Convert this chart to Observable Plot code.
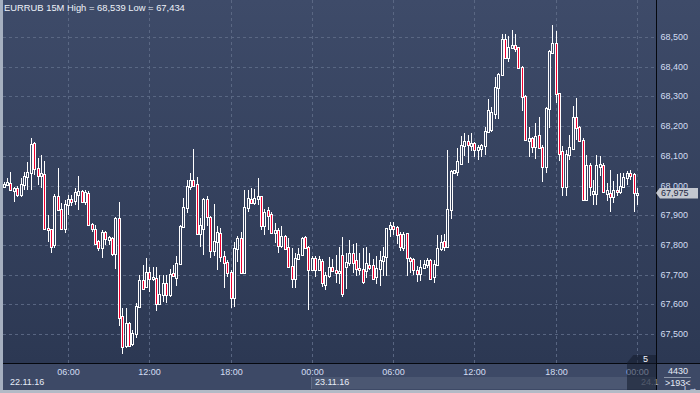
<!DOCTYPE html>
<html><head><meta charset="utf-8">
<script src="https://cdn.jsdelivr.net/npm/d3@7"></script>
<script src="https://cdn.jsdelivr.net/npm/@observablehq/plot@0.6"></script>
<style>
html,body{margin:0;padding:0;background:#2c3853;}
#wrap{position:relative;width:700px;height:393px;overflow:hidden;font-family:"Liberation Sans",Arial,sans-serif;font-size:9px;line-height:9px;
 background:linear-gradient(to bottom,#3e4b69 0px,#2c3853 363px,#2c3853 393px);}
.abs{position:absolute;white-space:nowrap;}
</style></head>
<body><div id="wrap">
<svg width="0" height="0" style="position:absolute;left:0;top:0"><defs><linearGradient id="bgGrad" gradientUnits="userSpaceOnUse" x1="0" y1="0" x2="0" y2="363"><stop offset="0" stop-color="#3e4b69"/><stop offset="1" stop-color="#2c3853"/></linearGradient></defs></svg>
<div class="abs" style="left:0;top:364px;width:700px;height:26px;background:#3d4966"></div>
<div class="abs" style="left:311px;top:377px;width:315px;height:12px;background:#4b5772;border-left:1px solid #5e6a84"></div>
<div class="abs" style="left:627px;top:377px;width:30px;height:12px;background:#4b5772;"></div>
</div>
<script>
// ---- data ----
const symbol = "EURRUB", timeframe = "15M";
const open = [68.000,68.006,68.010,67.986,67.990,67.972,68.006,68.033,68.045,68.143,
68.058,68.036,68.040,67.858,67.853,67.802,67.963,67.920,67.856,67.938,
67.954,67.950,67.972,67.982,67.949,67.974,67.870,67.855,67.812,67.792,
67.842,67.820,67.822,67.772,67.890,67.561,67.463,67.538,67.469,67.502,
67.594,67.682,67.660,67.710,67.688,67.690,67.606,67.635,67.671,67.635,
67.705,67.693,67.740,67.862,67.927,67.999,68.019,68.006,67.839,67.858,
67.954,67.893,67.783,67.814,67.839,67.761,67.744,67.710,67.626,67.789,
67.822,67.710,67.929,67.954,67.946,67.957,67.963,67.867,67.916,67.904,
67.845,67.850,67.800,67.830,67.792,67.729,67.688,67.755,67.770,67.826,
67.792,67.718,67.755,67.718,67.747,67.667,67.697,67.726,67.714,67.708,
67.767,67.728,67.741,67.772,67.748,67.723,67.719,67.717,67.733,67.733,
67.694,67.722,67.748,67.763,67.856,67.864,67.859,67.837,67.792,67.839,
67.756,67.752,67.717,67.706,67.726,67.737,67.748,67.694,67.737,67.789,
67.814,67.797,67.921,68.044,68.048,68.076,68.137,68.150,68.137,68.142,
68.122,68.126,68.137,68.182,68.190,68.245,68.330,68.377,68.494,68.431,
68.466,68.472,68.466,68.400,68.301,68.152,68.160,68.134,68.170,68.131,
68.067,68.260,68.450,68.480,68.310,68.115,67.997,68.107,68.125,68.232,
68.196,68.154,67.953,68.070,67.975,67.975,68.064,68.070,67.975,67.975,
67.966,67.986,67.980,68.000,68.030,68.042,68.038,67.972];
const high = [68.012,68.025,68.044,67.995,67.997,68.025,68.044,68.079,68.160,68.146,
68.092,68.103,68.081,67.901,67.855,67.972,68.058,67.940,67.952,67.969,
67.969,67.990,68.033,67.985,67.985,67.980,67.875,67.867,67.816,67.850,
67.847,67.830,67.828,67.893,67.943,67.587,67.587,67.540,67.513,67.603,
67.699,67.733,67.755,67.727,67.727,67.727,67.699,67.699,67.699,67.718,
67.733,67.761,67.867,67.957,68.017,68.042,68.124,68.030,67.890,67.957,
67.963,67.898,67.938,67.862,67.856,67.778,67.749,67.716,67.811,67.830,
67.845,67.985,67.985,67.990,67.987,68.025,67.966,67.920,67.929,67.912,
67.873,67.856,67.862,67.834,67.822,67.789,67.772,67.789,67.828,67.830,
67.797,67.763,67.761,67.761,67.752,67.710,67.759,67.752,67.767,67.794,
67.828,67.774,67.817,67.803,67.806,67.772,67.790,67.792,67.774,67.752,
67.761,67.778,67.794,67.858,67.878,67.878,67.864,67.844,67.844,67.841,
67.759,67.756,67.728,67.750,67.750,67.756,67.752,67.748,67.833,67.833,
67.837,68.120,68.051,68.053,68.126,68.167,68.176,68.170,68.176,68.148,
68.137,68.140,68.196,68.290,68.265,68.366,68.379,68.509,68.511,68.505,
68.522,68.509,68.468,68.402,68.304,68.198,68.164,68.210,68.232,68.137,
68.263,68.455,68.539,68.520,68.312,68.134,68.118,68.170,68.268,68.296,
68.201,68.160,68.103,68.076,68.020,68.103,68.100,68.076,68.008,68.053,
68.014,68.040,68.042,68.042,68.048,68.053,68.042,67.990];
const low = [67.994,67.997,67.985,67.946,67.960,67.960,67.985,67.985,67.985,68.036,
68.002,67.990,67.851,67.811,67.774,67.789,67.918,67.851,67.839,67.901,
67.930,67.935,67.918,67.940,67.935,67.862,67.845,67.803,67.781,67.755,
67.800,67.800,67.761,67.718,67.527,67.434,67.452,67.457,67.460,67.485,
67.592,67.648,67.654,67.640,67.680,67.576,67.598,67.609,67.606,67.626,
67.693,67.660,67.738,67.856,67.907,67.985,67.997,67.835,67.794,67.766,
67.862,67.755,67.761,67.715,67.744,67.654,67.693,67.587,67.592,67.744,
67.704,67.707,67.912,67.940,67.935,67.935,67.851,67.834,67.851,67.839,
67.806,67.774,67.789,67.783,67.727,67.654,67.654,67.749,67.766,67.789,
67.581,67.716,67.693,67.716,67.659,67.648,67.690,67.711,67.672,67.667,
67.626,67.650,67.728,67.706,67.694,67.697,67.670,67.689,67.717,67.683,
67.667,67.661,67.694,67.694,67.828,67.833,67.803,67.781,67.780,67.694,
67.706,67.697,67.674,67.678,67.719,67.722,67.686,67.672,67.733,67.778,
67.778,67.794,67.886,68.040,68.031,68.073,68.098,68.075,68.115,68.096,
68.087,68.096,68.103,68.176,68.180,68.223,68.223,68.372,68.427,68.416,
68.458,68.450,68.398,68.252,68.150,68.096,68.109,68.089,68.127,68.011,
68.042,68.193,68.448,68.277,68.081,67.964,67.964,68.086,68.120,68.154,
68.151,67.947,67.947,67.964,67.936,67.936,68.031,67.977,67.947,67.910,
67.942,67.964,67.970,67.992,68.003,68.019,67.910,67.935];
const close = [68.006,68.013,67.988,67.990,67.972,68.006,68.033,68.045,68.140,68.058,
68.036,68.041,67.858,67.853,67.797,67.963,67.920,67.856,67.938,67.954,
67.949,67.979,67.982,67.949,67.979,67.870,67.858,67.806,67.792,67.845,
67.822,67.826,67.772,67.890,67.558,67.460,67.538,67.463,67.502,67.594,
67.682,67.654,67.710,67.688,67.693,67.606,67.635,67.671,67.635,67.702,
67.699,67.740,67.864,67.927,67.999,68.017,68.002,67.839,67.867,67.954,
67.896,67.783,67.814,67.844,67.761,67.744,67.710,67.626,67.789,67.822,
67.710,67.929,67.957,67.946,67.957,67.963,67.867,67.912,67.901,67.845,
67.850,67.800,67.830,67.789,67.729,67.688,67.755,67.770,67.822,67.792,
67.718,67.755,67.718,67.752,67.676,67.698,67.726,67.717,67.710,67.712,
67.637,67.741,67.772,67.741,67.722,67.719,67.680,67.739,67.726,67.689,
67.722,67.748,67.763,67.856,67.867,67.856,67.837,67.797,67.837,67.759,
67.748,67.719,67.706,67.726,67.737,67.748,67.689,67.737,67.789,67.811,
67.797,67.922,68.048,68.051,68.081,68.137,68.150,68.140,68.143,68.122,
68.128,68.137,68.182,68.254,68.249,68.330,68.377,68.494,68.431,68.466,
68.472,68.464,68.400,68.301,68.156,68.160,68.134,68.167,68.131,68.067,
68.260,68.453,68.480,68.310,68.111,67.997,68.107,68.130,68.232,68.196,
68.154,67.953,68.070,67.997,67.981,68.070,68.073,67.981,67.984,67.966,
67.986,67.980,68.000,68.029,68.042,68.036,67.978,67.975];
const priceTicks = [67.5,67.6,67.7,67.8,67.9,68.0,68.1,68.2,68.3,68.4,68.5];
const timeTickIndex = [19,43,67,91,115,139,163,187];
const timeLabels = ["06:00","12:00","18:00","00:00","06:00","12:00","18:00","00:00"];
const dateLabels = ["22.11.16","23.11.16","24.1"];
const barsInfo = ["4430", ">193<"];

// ---- chart ----
const candles = open.map((o, i) => ({i, open: o, high: high[i], low: low[i], close: close[i]}));
const fmt = d => d.toFixed(3).replace(".", ",");
const up = candles.filter(d => d.close >= d.open);
const down = candles.filter(d => d.close < d.open);
const bodyOpts = {x1: "i", x2: "i", y1: "open", y2: "close", insetLeft: -0.5, insetRight: -1.5, insetTop: 0.5, insetBottom: -1.5, stroke: "#ffffff", strokeWidth: 1};
const gridColor = "#5d6a86";

const chart = Plot.plot({
  width: 700, height: 393,
  marginTop: 0, marginLeft: 3, marginRight: 44, marginBottom: 30,
  style: {background: "transparent", fontFamily: "'Liberation Sans', Arial, sans-serif", fontSize: "9px", overflow: "visible"},
  x: {type: "linear", domain: [0, open.length - 1], range: [3.65, 637], round: true, axis: null},
  y: {type: "linear", domain: [67.5, 68.5], range: [334, 37], round: true, axis: null},
  marks: [
    Plot.gridY(priceTicks, {stroke: gridColor, strokeOpacity: 0.9, strokeDasharray: "3,3"}),
    Plot.gridX(timeTickIndex, {stroke: gridColor, strokeOpacity: 0.9, strokeDasharray: "3,3"}),
    Plot.ruleX(candles, {x: "i", y1: "low", y2: "high", stroke: "#ffffff", strokeWidth: 1}),
    Plot.rect(up, {...bodyOpts, fill: "url(#bgGrad)"}),
    Plot.rect(down, {...bodyOpts, fill: "#f2002f"}),
    Plot.axisY(priceTicks, {anchor: "right", tickSize: 0, tickPadding: 4, tickFormat: fmt, color: "#d3def2"}),
    Plot.axisX(timeTickIndex, {anchor: "bottom", tickSize: 0, tickPadding: 5, tickFormat: d => timeLabels[timeTickIndex.indexOf(d)], color: "#d3def2"})
  ]
});
chart.style.position = "absolute";
chart.style.left = "0px";
chart.style.top = "0px";
const wrap = document.getElementById("wrap");
wrap.appendChild(chart);

function addDiv(style, text) {
  const d = document.createElement("div");
  d.className = "abs";
  d.setAttribute("style", style);
  if (text != null) d.textContent = text;
  wrap.appendChild(d);
  return d;
}
// frame lines
addDiv("left:3px;top:363px;width:697px;height:1px;background:#05080e");
addDiv("left:656px;top:0;width:1px;height:390px;background:#05080e");
// header
addDiv("left:4px;top:3.3px;color:#eef2f9;font-size:9.4px", `${symbol} ${timeframe} High = ${fmt(d3.max(high))} Low = ${fmt(d3.min(low))}`);
// date labels
addDiv("left:10px;top:378px;color:#e6ecf6", dateLabels[0]);
addDiv("left:315px;top:378px;color:#e6ecf6", dateLabels[1]);
addDiv("left:641px;top:378px;color:#9aa5b8", dateLabels[2]);
// right panel info
addDiv("left:668px;top:367px;color:#e6ecf6", barsInfo[0]);
addDiv("left:664px;top:376.5px;width:27px;height:1px;background:#8c97aa");
addDiv("left:665px;top:378.5px;color:#e6ecf6", barsInfo[1]);
// scroll overlay
addDiv("left:627px;top:355px;width:29px;height:35px;background:rgba(20,27,44,0.55);clip-path:polygon(0 22%,22% 0,100% 0,100% 100%,0 100%)");
addDiv("left:643px;top:354.5px;color:#f2f5fa", "5");
// last price marker
const last = candles[candles.length - 1];
const yLast = chart.scale("y").apply(last.close);
addDiv(`left:656px;top:${yLast - 5.5}px;width:42px;height:11px;background:#c4c8d0;clip-path:polygon(0 50%,4px 0,100% 0,100% 100%,4px 100%)`);
addDiv(`left:661px;top:${yLast - 3.8}px;color:#1b2640`, fmt(last.close));
// borders
addDiv("left:0;top:0;width:3px;height:393px;background:#a6b0c0");
addDiv("left:0;top:390px;width:700px;height:3px;background:#b3bac6");
</script>
</body></html>
